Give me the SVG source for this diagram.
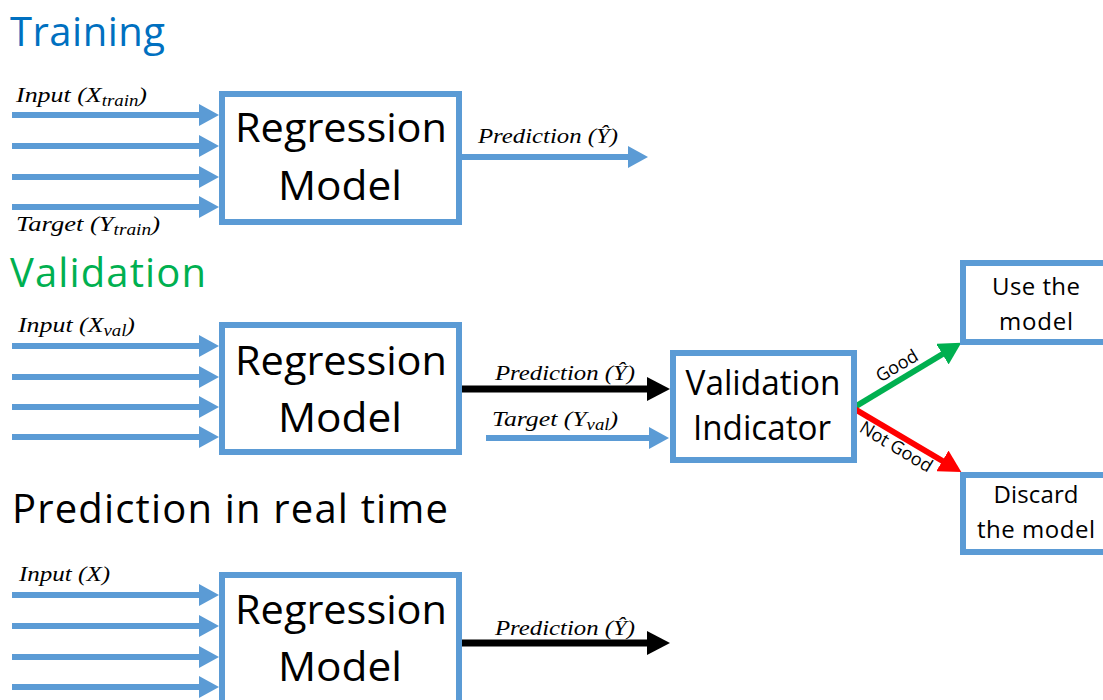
<svg xmlns="http://www.w3.org/2000/svg" width="1103" height="700" viewBox="0 0 1103 700">
<style>
.box{fill:#fff;stroke:#5B9BD5;stroke-width:6}
.big{font-family:"Open Sans","Noto Sans",sans-serif;font-size:40px;fill:#000;text-anchor:middle}
.mid{font-family:"Open Sans","Noto Sans",sans-serif;font-size:35px;fill:#000;text-anchor:middle}
.sm{font-family:"Open Sans","Noto Sans",sans-serif;font-size:24px;fill:#000;text-anchor:middle}
.title{font-family:"Open Sans","Noto Sans",sans-serif;font-size:40px}
.lab{font-family:"Liberation Serif","DejaVu Serif",serif;font-style:italic;font-size:22px;fill:#000}
.sub{font-size:16px}
.edge{font-family:"Open Sans","Noto Sans",sans-serif;font-size:18px;fill:#000;text-anchor:middle}
.ab{stroke:#5B9BD5;stroke-width:6;fill:none}
.ak{stroke:#000;stroke-width:7;fill:none}
.ag{stroke:#00B050;stroke-width:6;fill:none}
.ar{stroke:#FF0000;stroke-width:6;fill:none}
</style>
<defs>
<marker id="hb" viewBox="0 0 20 22" markerWidth="20" markerHeight="22" markerUnits="userSpaceOnUse" refX="8" refY="11" orient="auto"><path d="M0,0 L20,11 L0,22 Z" fill="#5B9BD5"/></marker>
<marker id="hk" viewBox="0 0 23 24" markerWidth="23" markerHeight="24" markerUnits="userSpaceOnUse" refX="9" refY="12" orient="auto"><path d="M0,0 L23,12 L0,24 Z" fill="#000"/></marker>
<marker id="hg" viewBox="0 0 22 24" markerWidth="22" markerHeight="24" markerUnits="userSpaceOnUse" refX="10" refY="12" orient="auto"><path d="M0,0 L22,12 L0,24 Z" fill="#00B050"/></marker>
<marker id="hr" viewBox="0 0 22 24" markerWidth="22" markerHeight="24" markerUnits="userSpaceOnUse" refX="10" refY="12" orient="auto"><path d="M0,0 L22,12 L0,24 Z" fill="#FF0000"/></marker>
</defs>

<g id="titles">
<text class="title" x="10" y="46" fill="#0070C0" textLength="155">Training</text>
<text class="title" x="10" y="287" fill="#00B050" textLength="196">Validation</text>
<text class="title" x="12" y="523" fill="#000" textLength="436">Prediction in real time</text>
</g>

<g id="connectors">
<line class="ab" x1="12" y1="115" x2="207" y2="115" marker-end="url(#hb)"/>
<line class="ab" x1="12" y1="146" x2="207" y2="146" marker-end="url(#hb)"/>
<line class="ab" x1="12" y1="177" x2="207" y2="177" marker-end="url(#hb)"/>
<line class="ab" x1="12" y1="207" x2="207" y2="207" marker-end="url(#hb)"/>
<line class="ab" x1="460" y1="157" x2="636" y2="157" marker-end="url(#hb)"/>
<line class="ab" x1="12" y1="346" x2="207" y2="346" marker-end="url(#hb)"/>
<line class="ab" x1="12" y1="377" x2="207" y2="377" marker-end="url(#hb)"/>
<line class="ab" x1="12" y1="407" x2="207" y2="407" marker-end="url(#hb)"/>
<line class="ab" x1="12" y1="437" x2="207" y2="437" marker-end="url(#hb)"/>
<line class="ak" x1="460" y1="389" x2="656" y2="389" marker-end="url(#hk)"/>
<line class="ab" x1="486" y1="438" x2="657" y2="438" marker-end="url(#hb)"/>
<line class="ag" x1="853" y1="408" x2="951" y2="349" marker-end="url(#hg)"/>
<line class="ar" x1="853" y1="408" x2="951" y2="466" marker-end="url(#hr)"/>
<line class="ab" x1="12" y1="595" x2="207" y2="595" marker-end="url(#hb)"/>
<line class="ab" x1="12" y1="626" x2="207" y2="626" marker-end="url(#hb)"/>
<line class="ab" x1="12" y1="657" x2="207" y2="657" marker-end="url(#hb)"/>
<line class="ab" x1="12" y1="687" x2="207" y2="687" marker-end="url(#hb)"/>
<line class="ak" x1="460" y1="643" x2="656" y2="643" marker-end="url(#hk)"/>
</g>

<g id="labels">
<text class="lab" x="16" y="102" textLength="131" lengthAdjust="spacingAndGlyphs">Input (X<tspan class="sub" dy="4">train</tspan><tspan dy="-4">)</tspan></text>
<text class="lab" x="16" y="231" textLength="144" lengthAdjust="spacingAndGlyphs">Target (Y<tspan class="sub" dy="4">train</tspan><tspan dy="-4">)</tspan></text>
<text class="lab" x="478" y="143" textLength="140" lengthAdjust="spacingAndGlyphs">Prediction (Ŷ)</text>
<text class="lab" x="18" y="332" textLength="117" lengthAdjust="spacingAndGlyphs">Input (X<tspan class="sub" dy="4">val</tspan><tspan dy="-4">)</tspan></text>
<text class="lab" x="495" y="380" textLength="140" lengthAdjust="spacingAndGlyphs">Prediction (Ŷ)</text>
<text class="lab" x="492" y="426" textLength="126" lengthAdjust="spacingAndGlyphs">Target (Y<tspan class="sub" dy="4">val</tspan><tspan dy="-4">)</tspan></text>
<text class="lab" x="19" y="581" textLength="91" lengthAdjust="spacingAndGlyphs">Input (X)</text>
<text class="lab" x="495" y="635" textLength="140" lengthAdjust="spacingAndGlyphs">Prediction (Ŷ)</text>
<text class="edge" transform="translate(900,371) rotate(-31)">Good</text>
<text class="edge" transform="translate(893,452) rotate(31)">Not Good</text>
</g>

<g id="train-model">
<rect class="box" x="222" y="94" width="237" height="128"/>
<text class="big" x="341" y="142" textLength="212" lengthAdjust="spacingAndGlyphs">Regression</text>
<text class="big" x="340" y="200" textLength="124" lengthAdjust="spacingAndGlyphs">Model</text>
</g>

<g id="val-model">
<rect class="box" x="222" y="325" width="237" height="127"/>
<text class="big" x="341" y="375" textLength="212" lengthAdjust="spacingAndGlyphs">Regression</text>
<text class="big" x="340" y="432" textLength="124" lengthAdjust="spacingAndGlyphs">Model</text>
</g>

<g id="pred-model">
<rect class="box" x="222" y="575" width="237" height="140"/>
<text class="big" x="341" y="624" textLength="212" lengthAdjust="spacingAndGlyphs">Regression</text>
<text class="big" x="340" y="681" textLength="124" lengthAdjust="spacingAndGlyphs">Model</text>
</g>

<g id="val-indicator">
<rect class="box" x="673" y="353" width="181" height="107"/>
<text class="mid" x="763" y="395" textLength="155" lengthAdjust="spacingAndGlyphs">Validation</text>
<text class="mid" x="762" y="440" textLength="138" lengthAdjust="spacingAndGlyphs">Indicator</text>
</g>

<g id="use-model">
<rect class="box" x="963" y="263" width="200" height="79"/>
<text class="sm" x="1036" y="295" textLength="88">Use the</text>
<text class="sm" x="1036" y="330" textLength="74">model</text>
</g>

<g id="discard-model">
<rect class="box" x="963" y="475" width="200" height="77"/>
<text class="sm" x="1036" y="503" textLength="85">Discard</text>
<text class="sm" x="1036" y="538" textLength="118">the model</text>
</g>
</svg>
